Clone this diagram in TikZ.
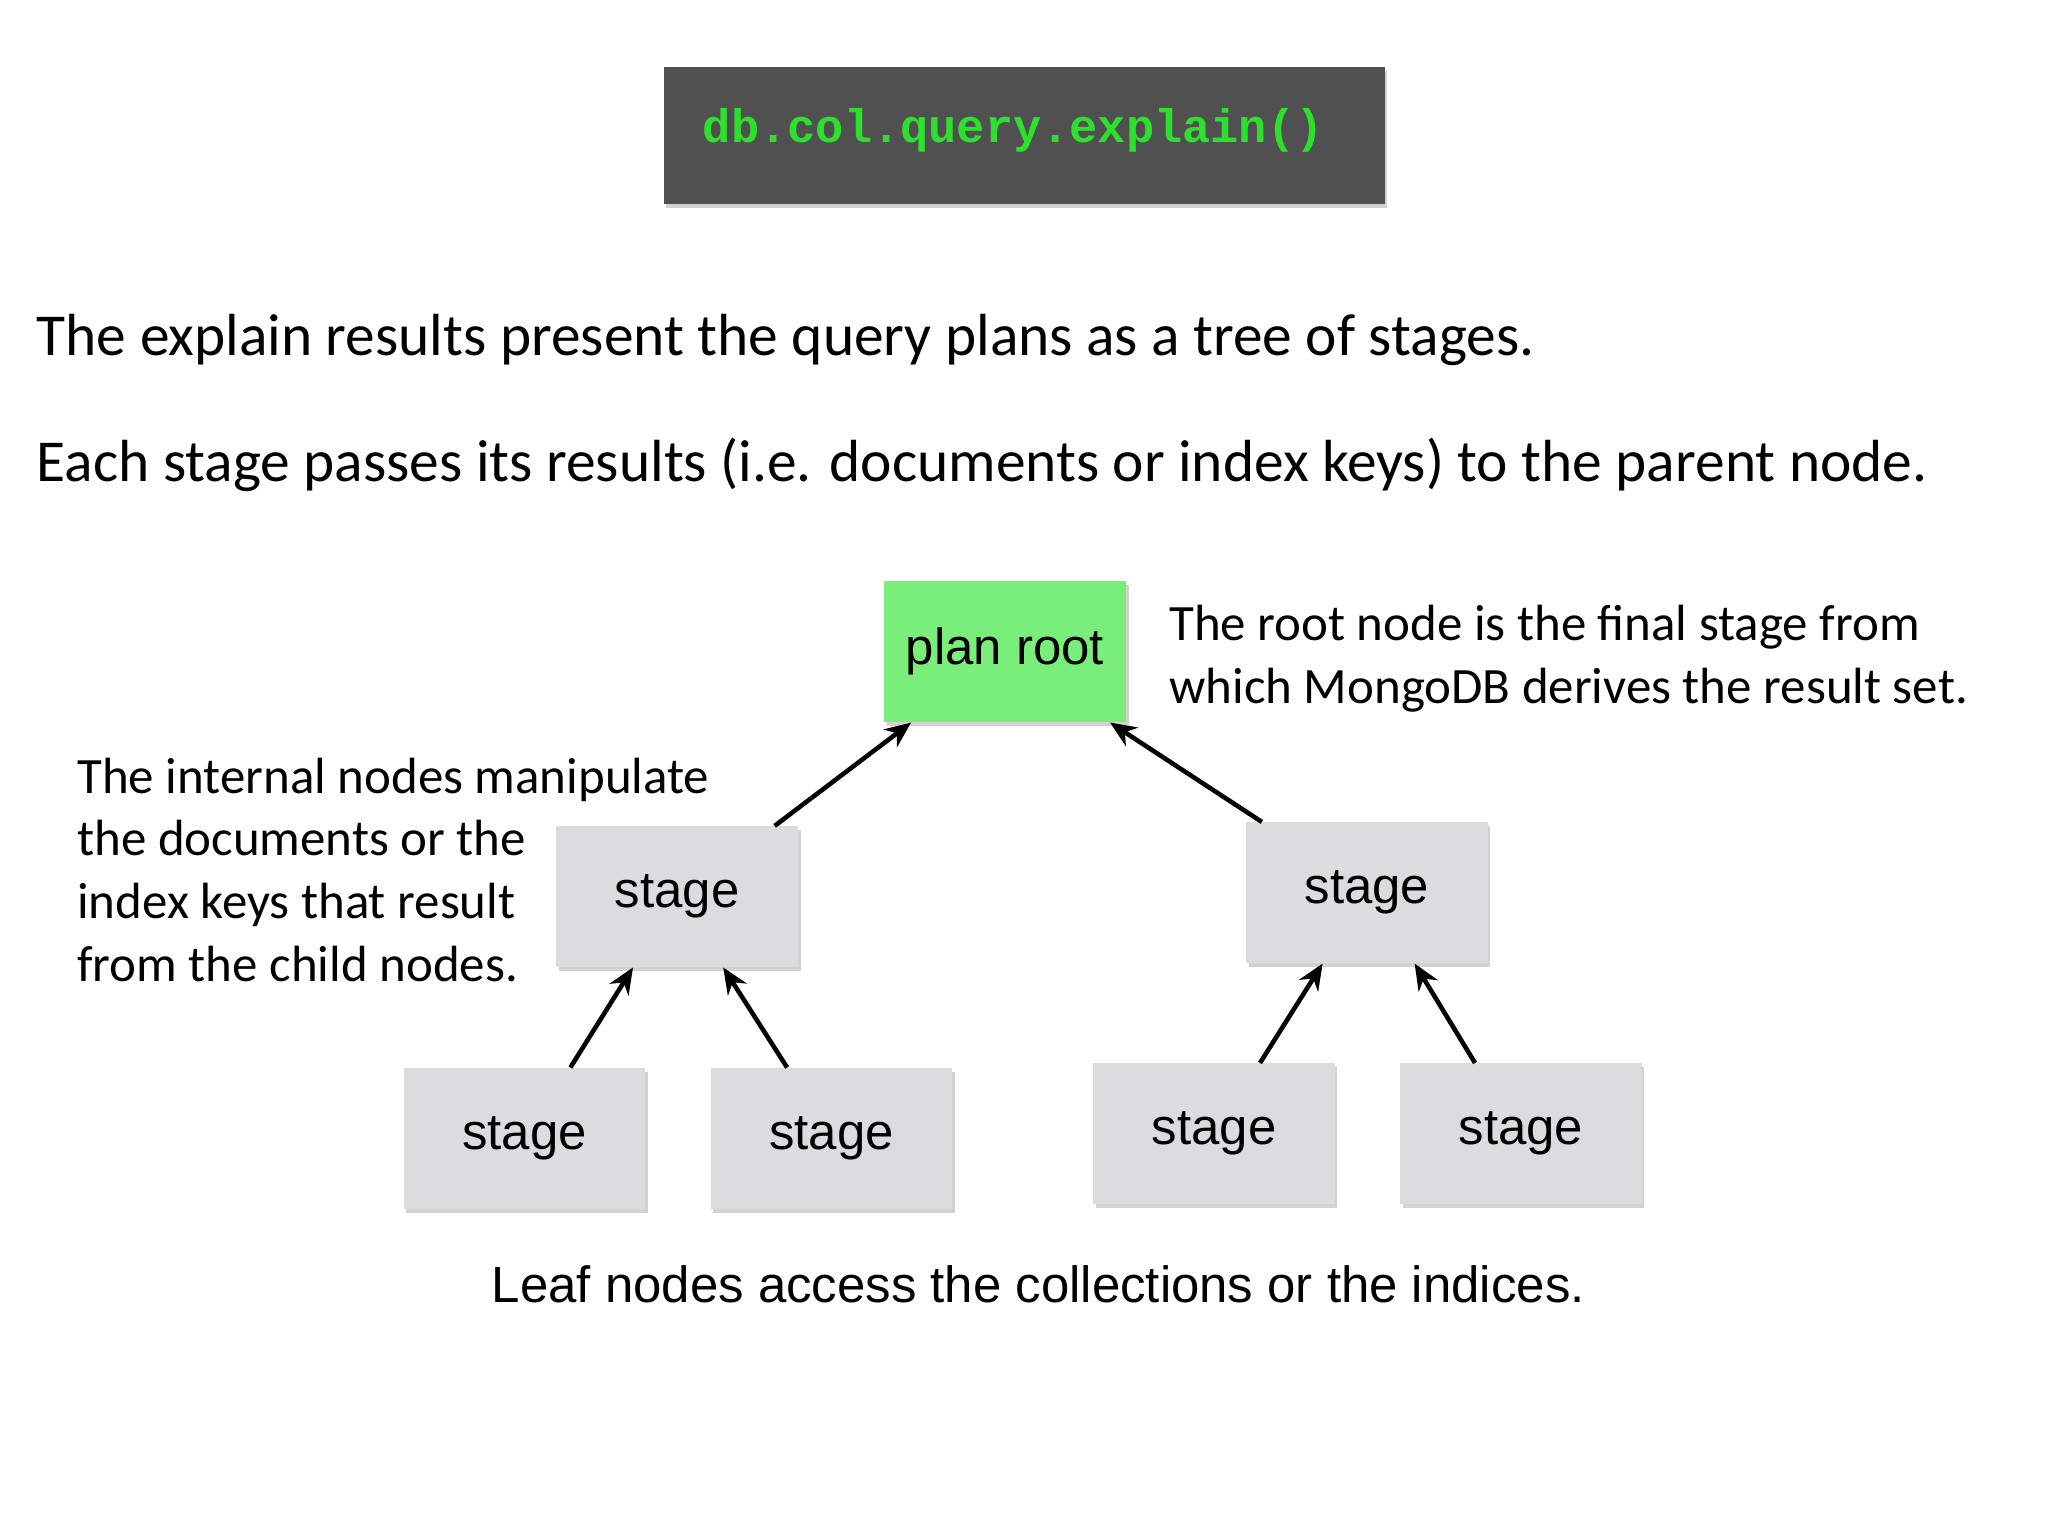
\documentclass[tikz,border=0pt]{standalone}
\usepackage{fontspec}
\setmainfont{Carlito}
\newfontfamily\arialf{Liberation Sans}
\newfontfamily\monof{Liberation Mono}
\usetikzlibrary{arrows.meta,shadows}
\definecolor{codebg}{HTML}{505050}
\definecolor{codegreen}{HTML}{2EE02E}
\definecolor{rootgreen}{HTML}{7AEE7A}
\definecolor{stagegray}{HTML}{DCDBDD}
\begin{document}
\begin{tikzpicture}[x=1pt,y=-1pt,
  box/.style={minimum width=185pt,minimum height=108pt,inner sep=0pt,
    font=\arialf\fontsize{39}{44}\selectfont,
    drop shadow={shadow xshift=2pt,shadow yshift=-3pt,fill=black!35,opacity=0.5}},
  stage/.style={box,fill=stagegray},
  arr/.style={line width=3.5pt,-{Stealth[length=20pt,width=17pt]}},
  txt/.style={anchor=west,inner sep=0pt,font=\fontsize{45.5}{52}\selectfont},
  ann/.style={anchor=north west,inner sep=0pt,align=left,font=\fontsize{39}{48}\selectfont}]
\useasboundingbox (0,0) rectangle (1568,1176);
\node[minimum width=552pt,minimum height=105pt,inner sep=0pt,fill=codebg,
  drop shadow={shadow xshift=2pt,shadow yshift=-3pt,fill=black!35,opacity=0.5}] (code) at (784,103.5) {};
\node[anchor=west,inner sep=0pt,text=codegreen,font=\monof\bfseries\fontsize{36}{40}\selectfont] (codet) at (538,100) {db.col.query.explain()};
\node[txt] (l1) at (28,260) {The explain results present the query plans as a tree of stages.};
\node[txt] (l2) at (28,356) {Each stage passes its results (i.e. documents or index keys) to the parent node.};
\node[box,fill=rootgreen] (root) at (769.5,499) {plan root};
\node[stage] (s1) at (518.5,686.5) {stage};
\node[stage] (s2) at (1046.5,683.5) {stage};
\node[stage] (a1) at (401.5,871.5) {stage};
\node[stage] (a2) at (636.5,871.5) {stage};
\node[stage] (a3) at (929.5,868) {stage};
\node[stage] (a4) at (1164.5,868) {stage};
\node[ann] (rn) at (895,463) {The root node is the final stage from\\which MongoDB derives the result set.};
\node[ann] (in) at (59,580) {The internal nodes manipulate\\the documents or the\\index keys that result\\from the child nodes.};
\node[inner sep=0pt,font=\arialf\fontsize{39}{44}\selectfont] (leaf) at (795,983) {Leaf nodes access the collections or the indices.};
\draw[arr] (s1.36.5) -- (root.217);
\draw[arr] (s2.146) -- (root.326);
\draw[arr] (a1.57) -- (s1.238);
\draw[arr] (a2.122) -- (s1.303);
\draw[arr] (a3.57) -- (s2.238);
\draw[arr] (a4.123) -- (s2.304);
\end{tikzpicture}
\end{document}
